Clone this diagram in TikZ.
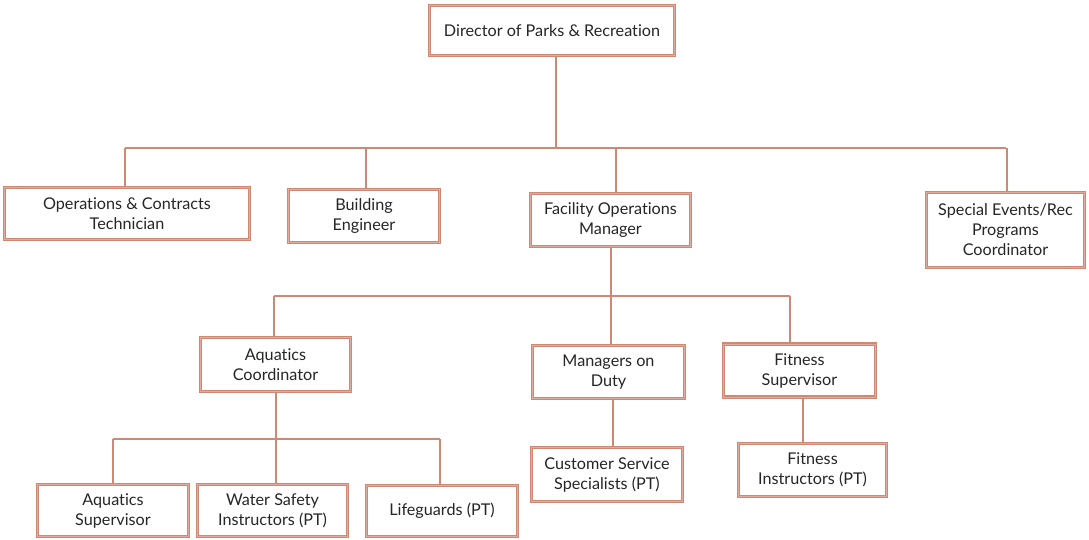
\documentclass[tikz,border=0pt]{standalone}
\usepackage{fontspec}
\setmainfont[Ligatures=NoCommon]{Lato}
\definecolor{edge}{RGB}{207,136,116}
\definecolor{edgelight}{RGB}{226,170,154}
\definecolor{ink}{RGB}{38,38,38}
\begin{document}
\begin{tikzpicture}[x=1pt,y=-1pt,
  role/.style={draw=edge, line width=1.1pt, fill=white, rectangle, inner sep=0pt,
    align=center, text=ink, font=\fontsize{16.2}{20}\selectfont,
    double=edgelight, double distance=0.9pt},
  link/.style={draw=edge, line width=2pt}]
\useasboundingbox (0,0) rectangle (1089,540);

% bus points of the three levels
\coordinate (b1) at (556,148);
\coordinate (b2) at (611,296);
\coordinate (b3) at (276,439);

% boxes
\newcommand{\rolebox}[6]{\node[role, minimum width=#4-3, minimum height=#5-3] (#1) at (#2,#3) {#6};}
\rolebox{dir}{552}{30.5}{248}{53}{Director of Parks \& Recreation}
\rolebox{ops}{127}{213.5}{248}{55}{Operations \& Contracts\\Technician}
\rolebox{bld}{364}{216}{154}{56}{Building\\Engineer}
\rolebox{fom}{610.5}{220}{163}{56}{Facility Operations\\Manager}
\rolebox{spe}{1005.5}{230}{161}{78}{Special Events/Rec\\Programs\\Coordinator}
\rolebox{aqc}{275.5}{364.5}{153}{57}{Aquatics\\Coordinator}
\rolebox{mod}{608.5}{372}{155}{56}{Managers on\\Duty}
\rolebox{fit}{799.5}{370.5}{155}{56}{Fitness\\Supervisor}
\rolebox{aqs}{113}{510.5}{154}{55}{Aquatics\\Supervisor}
\rolebox{wsi}{272.5}{510.5}{153}{55}{Water Safety\\Instructors (PT)}
\rolebox{lif}{442}{511}{154}{54}{Lifeguards (PT)}
\rolebox{css}{607}{474.5}{154}{57}{Customer Service\\Specialists (PT)}
\rolebox{fin}{812.5}{470}{151}{56}{Fitness\\Instructors (PT)}

% first level
\draw[link] (dir.south -| b1) -- (b1);
\draw[link] ([xshift=-2]ops.north |- b1) -- (spe.north |- b1);
\draw[link] ([xshift=-2]ops.north) -- ([xshift=-2]ops.north |- b1);
\draw[link] ([xshift=2]bld.north) -- ([xshift=2]bld.north |- b1);
\draw[link] ([xshift=5.5]fom.north) -- ([xshift=5.5]fom.north |- b1);
\draw[link] ([xshift=1.5]spe.north) -- ([xshift=1.5]spe.north |- b1);

% second level
\draw[link] (fom.south -| b2) -- (mod.north -| b2);
\draw[link] ([xshift=-1.5]aqc.north |- b2) -- ([xshift=-9.5]fit.north |- b2);
\draw[link] ([xshift=-1.5]aqc.north) -- ([xshift=-1.5]aqc.north |- b2);
\draw[link] ([xshift=-9.5]fit.north) -- ([xshift=-9.5]fit.north |- b2);

% third level
\draw[link] (aqc.south -| b3) -- (wsi.north -| b3);
\draw[link] (aqs.north |- b3) -- ([xshift=-2]lif.north |- b3);
\draw[link] (aqs.north) -- (aqs.north |- b3);
\draw[link] ([xshift=-2]lif.north) -- ([xshift=-2]lif.north |- b3);
\draw[link] ([xshift=6]css.north) -- ([xshift=6]mod.south -| css.north);
\draw[link] ([xshift=-9.5]fin.north) -- ([xshift=-9.5]fit.south -| fin.north);
\end{tikzpicture}
\end{document}
